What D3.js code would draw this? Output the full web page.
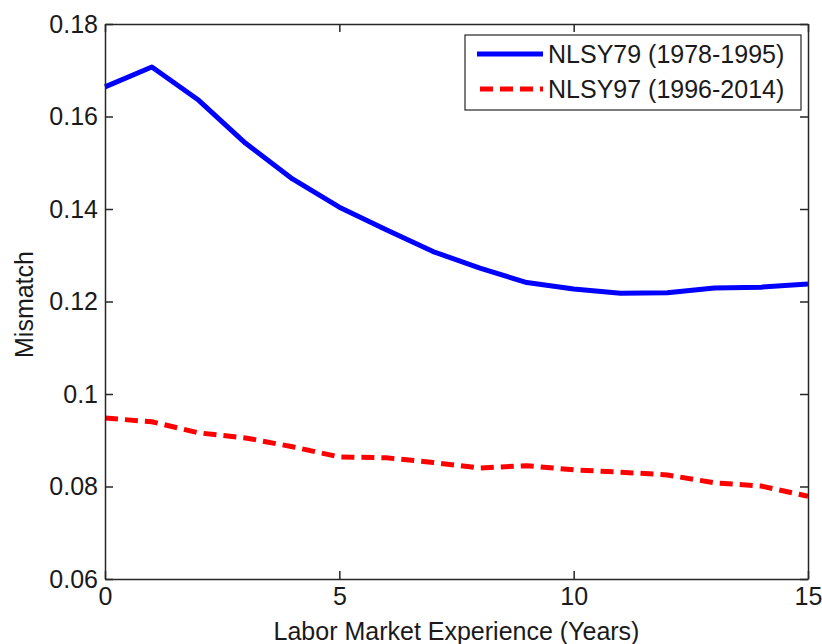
<!DOCTYPE html>
<html>
<head>
<meta charset="utf-8">
<script src="https://cdn.jsdelivr.net/npm/d3@7"></script>
<style>
  html, body { margin: 0; padding: 0; background: #fff; }
  svg text { font-family: "Liberation Sans", Arial, sans-serif; fill: #1a1a1a; }
</style>
</head>
<body>
<svg id="chart" width="822" height="644"></svg>
<script>
// Years of labor market experience
const experience = [0, 1, 2, 3, 4, 5, 6, 7, 8, 9, 10, 11, 12, 13, 14, 15];
// Mismatch by cohort
const nlsy79 = [0.1664, 0.1707, 0.1635, 0.1542, 0.1465, 0.1404, 0.1355, 0.1308, 0.1272, 0.1241, 0.1227, 0.1218, 0.1219, 0.1229, 0.1231, 0.1238];
const nlsy97 = [0.0948, 0.0940, 0.0916, 0.0905, 0.0886, 0.0864, 0.0862, 0.0852, 0.0840, 0.0845, 0.0836, 0.0831, 0.0825, 0.0808, 0.0801, 0.0779];
const seriesNames = ["NLSY79 (1978-1995)", "NLSY97 (1996-2014)"];
const xTicks = [0, 5, 10, 15];
const yTicks = [0.06, 0.08, 0.1, 0.12, 0.14, 0.16, 0.18];
const yTickLabels = ["0.06", "0.08", "0.1", "0.12", "0.14", "0.16", "0.18"];

const svg = d3.select("#chart");
const plotLeft = 105, plotRight = 808, plotTop = 24, plotBottom = 579;
const x = d3.scaleLinear().domain([0, 15]).range([plotLeft, plotRight]);
const y = d3.scaleLinear().domain([0.06, 0.18]).range([plotBottom, plotTop]);
const tickLen = 8;
const fontSize = 25;

// Lines
const line = d3.line().x((d, i) => x(experience[i])).y(d => y(d));
svg.append("path").datum(nlsy79).attr("d", line)
  .attr("fill", "none").attr("stroke", "#0000ff").attr("stroke-width", 5)
  .attr("stroke-linejoin", "round");
svg.append("path").datum(nlsy97).attr("d", line)
  .attr("fill", "none").attr("stroke", "#ff0000").attr("stroke-width", 5)
  .attr("stroke-dasharray", "13,7");

// Axes with inward ticks on all four sides
const axG = svg.append("g");
axG.append("g").attr("transform", `translate(0,${plotBottom})`)
  .call(d3.axisBottom(x).tickValues(xTicks).tickSizeInner(-tickLen).tickSizeOuter(0).tickPadding(8).tickFormat(d3.format("d")));
axG.append("g").attr("transform", `translate(0,${plotTop})`)
  .call(d3.axisTop(x).tickValues(xTicks).tickSizeInner(-tickLen).tickSizeOuter(0).tickFormat(""));
axG.append("g").attr("transform", `translate(${plotLeft},0)`)
  .call(d3.axisLeft(y).tickValues(yTicks).tickSizeInner(-tickLen).tickSizeOuter(0).tickPadding(7)
    .tickFormat((d, i) => yTickLabels[i]));
axG.append("g").attr("transform", `translate(${plotRight},0)`)
  .call(d3.axisRight(y).tickValues(yTicks).tickSizeInner(-tickLen).tickSizeOuter(0).tickFormat(""));
axG.selectAll(".domain").attr("stroke", "#262626").attr("stroke-width", 1.5);
axG.selectAll(".tick line").attr("stroke", "#262626").attr("stroke-width", 1.5);
axG.selectAll(".tick text").attr("font-size", fontSize)
  .attr("font-family", "Liberation Sans, Arial, sans-serif").attr("fill", "#1a1a1a");

// Axis titles
svg.append("text").attr("x", (plotLeft + plotRight) / 2).attr("y", 640)
  .attr("text-anchor", "middle").attr("font-size", fontSize)
  .text("Labor Market Experience (Years)");
svg.append("text").attr("transform", `translate(33,${(plotTop + plotBottom) / 2 + 3}) rotate(-90)`)
  .attr("text-anchor", "middle").attr("font-size", fontSize)
  .text("Mismatch");

// Legend
const lg = svg.append("g");
lg.append("rect").attr("x", 465).attr("y", 35).attr("width", 336).attr("height", 75)
  .attr("fill", "#fff").attr("stroke", "#262626").attr("stroke-width", 1.2);
const rows = [
  { name: seriesNames[0], color: "#0000ff", dashed: false, cy: 54 },
  { name: seriesNames[1], color: "#ff0000", dashed: true, cy: 89 }
];
rows.forEach(r => {
  lg.append("line").attr("x1", 477).attr("x2", 543).attr("y1", r.cy).attr("y2", r.cy)
    .attr("stroke", r.color).attr("stroke-width", 5)
    .attr("stroke-dasharray", r.dashed ? "13,7" : null)
    .attr("stroke-dashoffset", r.dashed ? -3 : null);
  lg.append("text").attr("x", 548).attr("y", r.cy).attr("dy", "0.35em")
    .attr("font-size", fontSize).text(r.name);
});
</script>
</body>
</html>
